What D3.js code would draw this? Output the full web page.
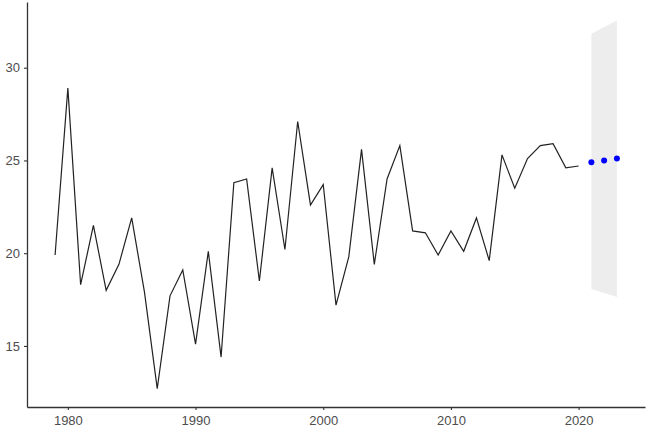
<!DOCTYPE html>
<html>
<head>
<meta charset="utf-8">
<script src="https://cdn.jsdelivr.net/npm/d3@7"></script>
<style>
  html, body { margin: 0; padding: 0; background: #fff; }
  svg { display: block; }
</style>
</head>
<body>
<svg id="chart" width="646" height="430"></svg>
<script>
const years = d3.range(1979, 2021);
const values = [19.9, 28.9, 18.3, 21.5, 18.0, 19.4, 21.9, 17.9, 12.7, 17.7,
                19.1, 15.1, 20.1, 14.4, 23.8, 24.0, 18.5, 24.6, 20.2, 27.1,
                22.6, 23.7, 17.2, 19.8, 25.6, 19.4, 24.0, 25.8, 21.2, 21.1,
                19.9, 21.2, 20.1, 21.9, 19.6, 25.3, 23.5, 25.1, 25.8, 25.9,
                24.6, 24.7];
const forecastYears = [2021, 2022, 2023];
const forecastValues = [24.9, 25.0, 25.1];
const forecastLower = [18.07, 17.85, 17.64];
const forecastUpper = [31.83, 32.2, 32.55];
const xTicks = [1980, 1990, 2000, 2010, 2020];
const yTicks = [15, 20, 25, 30];

const W = 646, H = 430;
const margin = {left: 27, right: 1, top: 2, bottom: 23};
const svg = d3.select("#chart");

const allX = years.concat(forecastYears);
const allY = values.concat(forecastLower, forecastUpper);
const [x0, x1] = d3.extent(allX);
const [y0, y1] = d3.extent(allY);
const xp = (x1 - x0) * 0.05, yp = (y1 - y0) * 0.05;

const x = d3.scaleLinear().domain([x0 - xp, x1 + xp]).range([margin.left, W - margin.right]);
const y = d3.scaleLinear().domain([y0 - yp, y1 + yp]).range([H - margin.bottom, margin.top]);

const fc = forecastYears.map((d, i) => ({x: d, v: forecastValues[i], lo: forecastLower[i], hi: forecastUpper[i]}));

svg.append("path")
  .datum(fc)
  .attr("fill", "#ededed")
  .attr("d", d3.area().x(d => x(d.x)).y0(d => y(d.lo)).y1(d => y(d.hi)));

const series = years.map((d, i) => ({x: d, v: values[i]}));
svg.append("path")
  .datum(series)
  .attr("fill", "none")
  .attr("stroke", "#222")
  .attr("stroke-width", 1.2)
  .attr("stroke-linejoin", "miter")
  .attr("d", d3.line().x(d => x(d.x)).y(d => y(d.v)));

svg.selectAll("circle.fc")
  .data(fc)
  .join("circle")
  .attr("class", "fc")
  .attr("cx", d => x(d.x))
  .attr("cy", d => y(d.v))
  .attr("r", 3)
  .attr("fill", "#0000ff");

const xAxis = svg.append("g")
  .attr("transform", `translate(0,${H - margin.bottom})`)
  .call(d3.axisBottom(x).tickValues(xTicks).tickFormat(d3.format("d")).tickSize(3).tickPadding(6).tickSizeOuter(0));
const yAxis = svg.append("g")
  .attr("transform", `translate(${margin.left},0)`)
  .call(d3.axisLeft(y).tickValues(yTicks).tickSize(3).tickPadding(4).tickSizeOuter(0));

[xAxis, yAxis].forEach(g => {
  g.select(".domain").attr("stroke", "#333").attr("stroke-width", 1.3);
  g.selectAll(".tick line").attr("stroke", "#333").attr("stroke-width", 1.1);
  g.selectAll(".tick text")
    .attr("fill", "#4d4d4d")
    .style("font-family", "Liberation Sans, Arial, sans-serif")
    .style("font-size", "13px");
});
</script>
</body>
</html>
